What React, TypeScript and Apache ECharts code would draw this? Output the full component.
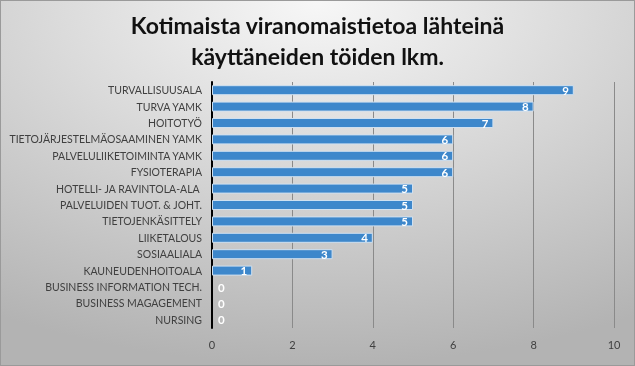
import React, { useEffect, useRef } from "react";
import * as echarts from "echarts";

const titleLines = ["Kotimaista viranomaistietoa lähteinä", "käyttäneiden töiden lkm."];
const categories = [
  "TURVALLISUUSALA",
  "TURVA YAMK",
  "HOITOTYÖ",
  "TIETOJÄRJESTELMÄOSAAMINEN YAMK",
  "PALVELULIIKETOIMINTA YAMK",
  "FYSIOTERAPIA",
  "HOTELLI- JA RAVINTOLA-ALA ",
  "PALVELUIDEN TUOT. & JOHT.",
  "TIETOJENKÄSITTELY",
  "LIIKETALOUS",
  "SOSIAALIALA",
  "KAUNEUDENHOITOALA",
  "BUSINESS INFORMATION TECH.",
  "BUSINESS MAGAGEMENT",
  "NURSING",
];
const values = [9, 8, 7, 6, 6, 6, 5, 5, 5, 4, 3, 1, 0, 0, 0];
const xMin = 0;
const xMax = 10;
const xInterval = 2;

export default function App() {
  const ref = useRef<HTMLDivElement>(null);
  useEffect(() => {
    if (!ref.current) return;
    const chart = echarts.init(ref.current, null, { renderer: "svg" });
    chart.setOption({
      animation: false,
      backgroundColor: {
        type: "radial",
        x: 0.5,
        y: 0.0,
        r: 1.0,
        colorStops: [
          { offset: 0, color: "#f7f7f7" },
          { offset: 1, color: "#b3b3b3" },
        ],
      },
      title: {
        text: titleLines.join("\n"),
        left: "center",
        top: 3,
        textStyle: {
          fontFamily: "Lato",
          fontWeight: "bold",
          fontSize: 23,
          lineHeight: 31,
          color: "#111111",
        },
      },
      grid: { left: 211, right: 20, top: 81, bottom: 37, containLabel: false },
      xAxis: {
        type: "value",
        min: xMin,
        max: xMax,
        interval: xInterval,
        axisLine: { show: false },
        axisTick: { show: false },
        splitLine: { show: true, lineStyle: { color: "#8a8a8a", width: 1 } },
        axisLabel: { color: "#404040", fontFamily: "Lato", fontSize: 11, margin: 11 },
      },
      yAxis: {
        type: "category",
        data: categories,
        inverse: true,
        axisLine: { show: true, lineStyle: { color: "#000000", width: 2 } },
        axisTick: { show: false },
        axisLabel: { color: "#404040", fontFamily: "Lato", fontSize: 10.5, margin: 10 },
      },
      series: [
        {
          type: "bar",
          data: values.map((v) =>
            v === 0
              ? {
                  value: v,
                  itemStyle: { borderWidth: 0 },
                  label: { position: "right", distance: 6 },
                }
              : { value: v }
          ),
          barWidth: 10,
          itemStyle: { color: "#3d87cb", borderColor: "#cfe0f0", borderWidth: 1 },
          label: {
            show: true,
            position: "insideRight",
            distance: 5,
            color: "#ffffff",
            fontFamily: "Lato",
            fontSize: 11.5,
            fontWeight: "bold",
          },
        },
      ],
    });
    return () => chart.dispose();
  }, []);
  return (
    <div
      ref={ref}
      style={{
        position: "fixed",
        left: 0,
        top: 0,
        width: 635,
        height: 366,
        boxSizing: "border-box",
        border: "1px solid #9a9a9a",
      }}
    />
  );
}
